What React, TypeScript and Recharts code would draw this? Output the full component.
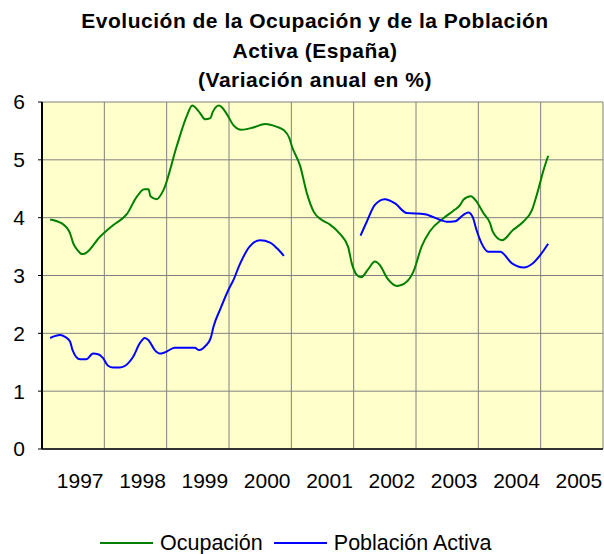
import { LineChart, Line, XAxis, YAxis, CartesianGrid } from "recharts";

// ---- Datos (años decimales / variación anual en %) ----

const ocupacionFechas = [
  1997.13, 1997.32, 1997.45, 1997.5, 1997.57, 1997.64, 1997.69, 1997.93,
  1998.14, 1998.36, 1998.52, 1998.64, 1998.71, 1998.74, 1998.84, 1998.95,
  1999.16, 1999.32, 1999.41, 1999.52, 1999.62, 1999.7, 1999.74, 1999.84, 1999.96,
  2000.07, 2000.2, 2000.39, 2000.58, 2000.77, 2000.87, 2000.97,
  2001.01, 2001.14, 2001.25, 2001.36, 2001.49, 2001.62, 2001.78, 2001.91, 2001.97,
  2002.05, 2002.12, 2002.24, 2002.34, 2002.42, 2002.54, 2002.7, 2002.85, 2002.96,
  2003.09, 2003.22, 2003.44, 2003.6, 2003.71, 2003.76, 2003.88, 2003.97,
  2004.08, 2004.19, 2004.23, 2004.38, 2004.56, 2004.72, 2004.86, 2004.96,
  2005.04, 2005.12,
];
const ocupacionValores = [
  3.97, 3.9, 3.73, 3.56, 3.44, 3.37, 3.38, 3.67,
  3.87, 4.06, 4.36, 4.49, 4.49, 4.37, 4.32, 4.48,
  5.23, 5.75, 5.94, 5.83, 5.7, 5.72, 5.83, 5.94, 5.8,
  5.6, 5.52, 5.56, 5.62, 5.57, 5.52, 5.37,
  5.23, 4.9, 4.42, 4.1, 3.96, 3.88, 3.72, 3.5, 3.21,
  3.01, 2.97, 3.12, 3.24, 3.18, 2.95, 2.82, 2.89, 3.07,
  3.5, 3.76, 3.99, 4.12, 4.22, 4.31, 4.37, 4.28,
  4.08, 3.9, 3.76, 3.61, 3.79, 3.93, 4.13, 4.48,
  4.8, 5.07,
];

const activaFechas = [
  1997.13, 1997.29, 1997.37, 1997.45, 1997.49, 1997.61, 1997.71, 1997.82, 1997.9, 1997.98,
  1998.06, 1998.14, 1998.25, 1998.38, 1998.46, 1998.57, 1998.65, 1998.71, 1998.81, 1998.89, 1998.97,
  1999.13, 1999.45, 1999.52, 1999.63, 1999.71, 1999.75, 1999.86, 1999.99,
  2000.07, 2000.18, 2000.33, 2000.5, 2000.66, 2000.77, 2000.88,
  2001.5,
  2002.11, 2002.21, 2002.34, 2002.5, 2002.66, 2002.85,
  2003.14, 2003.39, 2003.49, 2003.63, 2003.76, 2003.84, 2003.91, 2003.97,
  2004.05, 2004.16, 2004.35, 2004.54, 2004.73, 2004.86, 2004.99,
  2005.12,
];
const activaValores: (number | null)[] = [
  1.92, 1.97, 1.94, 1.86, 1.71, 1.55, 1.55, 1.65, 1.64, 1.57,
  1.44, 1.41, 1.41, 1.48, 1.59, 1.83, 1.92, 1.88, 1.71, 1.65, 1.67,
  1.75, 1.75, 1.71, 1.79, 1.93, 2.11, 2.42, 2.75,
  2.92, 3.21, 3.5, 3.61, 3.57, 3.47, 3.34,
  null,
  3.69, 3.93, 4.22, 4.32, 4.25, 4.08,
  4.06, 3.96, 3.93, 3.94, 4.05, 4.09, 4.01, 3.79,
  3.56, 3.41, 3.41, 3.21, 3.14, 3.2, 3.35,
  3.55,
];

const anios = [1997, 1998, 1999, 2000, 2001, 2002, 2003, 2004, 2005];
const limitesAnio = [1997, 1998, 1999, 2000, 2001, 2002, 2003, 2004, 2005, 2006];
const yTicks = [0, 1, 2, 3, 4, 5, 6];

const titulo = [
  "Evolución de la Ocupación y de la Población",
  "Activa (España)",
  "(Variación anual en %)",
];

const SERIES = [
  { nombre: "Ocupación", color: "#008000", fechas: ocupacionFechas, valores: ocupacionValores },
  { nombre: "Población Activa", color: "#0000FF", fechas: activaFechas, valores: activaValores },
];

const FONT = '"Liberation Sans", Arial, Helvetica, sans-serif';

function YearTick({ x, y, payload }: any) {
  return (
    <text x={x} y={y} dx={7} dy="0.71em" textAnchor="middle" fontSize={21} fontFamily={FONT} fill="#000">
      {Math.floor(payload.value)}
    </text>
  );
}

export default function App() {
  return (
    <div style={styles.page}>
      <svg width={604} height={100} style={styles.titleSvg}>
        {titulo.map((linea, i) => (
          <text
            key={linea}
            x={315}
            y={28 + i * 29.5}
            textAnchor="middle"
            fontFamily={FONT}
            fontWeight="bold"
            fontSize={21}
            letterSpacing={0.5}
            fill="#000"
          >
            {linea}
          </text>
        ))}
      </svg>

      <LineChart width={604} height={554} margin={{ top: 102, right: 1, bottom: 0, left: 0 }}>
        <CartesianGrid
          fill="#FFFFCC"
          fillOpacity={1}
          stroke="#808080"
          strokeWidth={1}
          verticalValues={limitesAnio}
        />
        <XAxis
          dataKey="fecha"
          type="number"
          domain={[1997, 2006]}
          ticks={anios.map((a) => a + 0.5)}
          interval={0}
          height={105}
          tickLine={false}
          tickSize={0}
          tickMargin={24}
          tick={<YearTick />}
          axisLine={{ stroke: "#333", strokeWidth: 2 }}
          allowDataOverflow
        />
        <YAxis
          type="number"
          domain={[0, 6]}
          ticks={yTicks}
          interval={0}
          width={42}
          tickSize={4}
          tickMargin={13}
          tick={{ fontSize: 21, fill: "#000", fontFamily: FONT }}
          tickLine={{ stroke: "#000" }}
          axisLine={{ stroke: "#000", strokeWidth: 2 }}
        />
        {SERIES.map((s) => (
          <Line
            key={s.nombre}
            data={s.fechas.map((f, i) => ({ fecha: f, valor: s.valores[i] }))}
            dataKey="valor"
            name={s.nombre}
            type="monotone"
            stroke={s.color}
            strokeWidth={2}
            dot={false}
            activeDot={false}
            connectNulls={false}
            isAnimationActive={false}
          />
        ))}
      </LineChart>

      <div style={styles.legend}>
        {SERIES.map((s) => (
          <div key={s.nombre} style={styles.legendItem}>
            <svg width={53} height={4} style={{ display: "block" }}>
              <line x1={0} x2={53} y1={2} y2={2} stroke={s.color} strokeWidth={2} />
            </svg>
            <span style={styles.legendText}>{s.nombre}</span>
          </div>
        ))}
      </div>
    </div>
  );
}

const styles: Record<string, React.CSSProperties> = {
  page: {
    position: "absolute",
    left: 0,
    top: 0,
    width: 604,
    height: 554,
    background: "#fff",
    overflow: "hidden",
  },
  titleSvg: {
    position: "absolute",
    left: 0,
    top: 0,
  },
  legend: {
    position: "absolute",
    left: 100,
    top: 531,
    height: 24,
    display: "flex",
    alignItems: "center",
    fontFamily: FONT,
    fontSize: 21.5,
    lineHeight: "24px",
    color: "#000",
  },
  legendItem: {
    display: "flex",
    alignItems: "center",
    marginRight: 11,
  },
  legendText: {
    marginLeft: 7,
    whiteSpace: "nowrap",
  },
};
